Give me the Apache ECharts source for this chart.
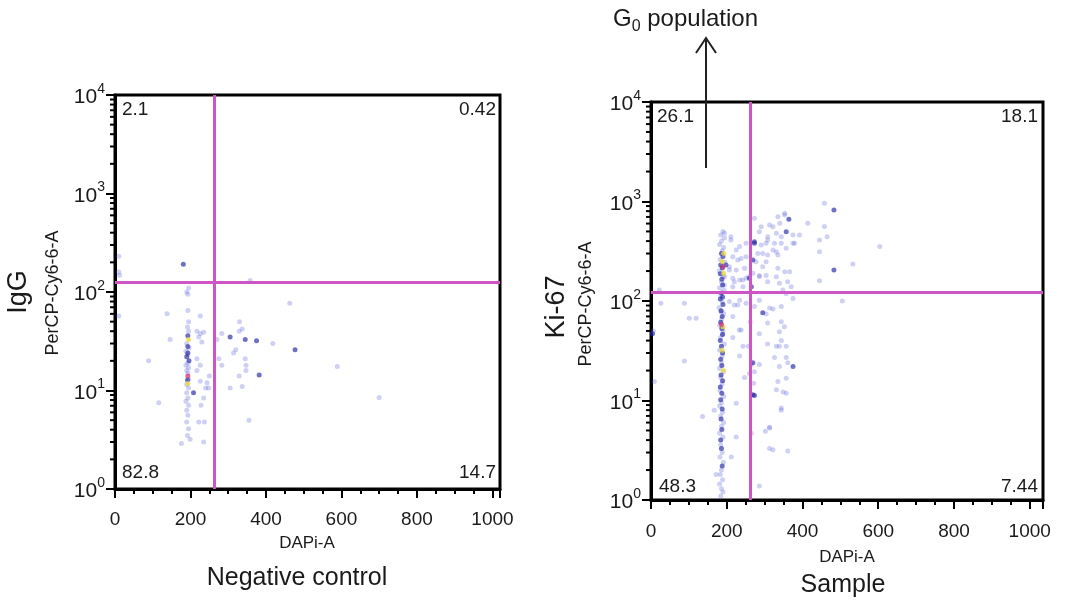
<!DOCTYPE html>
<html><head><meta charset="utf-8">
<script src="https://cdn.jsdelivr.net/npm/echarts@6/dist/echarts.min.js"></script>
<style>html,body{margin:0;padding:0;background:#fff}#c{width:1070px;height:601px}</style>
</head><body><div id="c"></div>
<script>
// ---------- data ----------
const xTickLabels = [0, 200, 400, 600, 800, 1000];
const yMinorTicks = [2,3,4,5,6,7,8,9,20,30,40,50,60,70,80,90,200,300,400,500,600,700,800,900,2000,3000,4000,5000,6000,7000,8000,9000];
const ctrlGate = [262, 127];
const smpGate = [262, 123];
const ctrlQuad = ['2.1', '0.42', '82.8', '14.7'];
const smpQuad = ['26.1', '18.1', '48.3', '7.44'];

const ctrlFaint = [[10,230],[10,160],[12,148],[10,57],
 [195,110],[190,100],[193,95],[358,131],[463,77],[138,60],[193,65],[226,57],
 [195,50],[192,44],[195,40],[190,30],[196,27],[188,25],[192,23],[193,19],[188,18],[195,17],[190,16],[193,15],[195,13],[190,11.5],[195,10.6],[190,9.5],[193,8.4],[188,7.8],[195,7.1],[190,6.3],[193,5.6],[190,4.8],[195,4.1],[192,3.5],[176,2.9],[199,3.2],
 [217,40],[222,35],[226,38],[235,39],[230,31],[217,21],[226,18],[217,16],[226,12.4],[240,10.6],[235,8.4],[228,7.1],[237,4.8],[222,4.8],[235,3.0],[244,12],[248,10.6],[250,14],
 [146,33],[89,20],[116,7.5],
 [270,33],[283,38],[418,30],[275,21],[283,18],[314,24],[320,26],[305,10.6],[329,14],[345,21],[347,16],[347,18],[337,11],[355,5],[589,17.5],[700,8.5],[330,50],[337,42],[329,40]];
const ctrlDark = [[181,191],[193,28],[193,24],[190,22],[196,20],[208,9.5],[192,12.8],[305,35],[345,33],[375,32],[477,26],[193,36],[382,14.4]];
const ctrlYellow = [[195,33],[193,11.8]];
const ctrlRed = [[193,14]];

const smpFaint = [
 [190,500],[184,460],[194,430],[186,400],[181,370],[192,345],[188,320],[183,262],[195,245],[180,200],[190,176],[186,155],[181,136],[193,128],[184,112],[188,98],[180,86],[192,75],[186,65],[182,57],[190,50],[184,43],[194,37],[181,32],[188,28],[186,24],[181,21],[191,19.5],[184,17],[188,14.7],[182,12.7],[192,11],[186,9.5],[181,8.8],[189,7.6],[184,7.0],[192,6.0],[186,5.5],[181,4.7],[190,4.3],[184,3.6],[188,3.0],[182,2.7],[191,2.4],[186,2.0],[183,1.8],[189,1.6],[181,1.45],[186,1.3],[190,1.2],[184,1.1],
 [22,129],[26,95],[88,95],[101,67],[119,67],[9,15.5],[88,25],[167,8.0],[136,6.9],[172,1.8],[6,50],
 [194,479],[211,410],[234,352],[251,380],[216,279],[238,268],[207,221],[225,205],[247,213],[216,169],[234,163],[251,169],[194,145],[216,139],[243,139],[258,175],[211,443],[225,326],[251,279],[229,258],[207,205],[194,175],[242,163],[220,156],
 [207,99],[229,91],[251,95],[185,78],[233,51],[189,47],[234,102],[220,91],[216,70],[238,51],[216,43],[243,35],[234,28],[247,17],[225,9.4],[225,4.3],[212,2.7],
 [286,102],[313,85],[304,74],[344,88],[357,118],[375,106],[308,60],[339,49],[352,55],[286,47],[308,37],[357,35],[339,35],[326,27],[357,27],[339,22],[260,18.7],[335,15.5],[357,16.7],[331,12.8],[357,11.8],[344,8.4],[313,5.4],[302,4.9],[313,3.3],[361,3.1],[286,1.38],[322,83],[344,62],[344,40],[331,35],[361,24],[286,23],[349,12.2],[344,8.0],[313,5.3],[322,3.2],[265,4.7],[273,19.5],[271,14.9],[265,23],[257,35],[262,62],[273,88],
 [273,678],[291,558],[313,580],[335,703],[353,731],[344,443],[326,380],[308,410],[291,366],[282,301],[308,290],[331,313],[357,339],[379,380],[277,248],[304,248],[335,213],[366,197],[286,175],[308,156],[339,151],[370,139],[269,190],[392,460],[414,604],[458,959],[458,560],[465,443],[445,410],[445,313],[533,235],[445,160],[505,100],[604,352],[353,760],[340,604],[322,558],[375,460],[331,479],[308,443],[286,497],[304,380],[322,326],[344,380],[375,380],[295,301],[335,290],[295,221],[286,180],[304,180],[331,175],[353,197],[361,156],[348,129]];
const smpDark = [
 [186,300],[190,280],[184,230],[188,215],[183,188],[187,165],[189,145],[186,120],[183,105],[190,92],[185,80],[188,70],[184,61],[187,53],[189,46],[183,40],[186,35],[189,30],[184,26],[187,22.5],[185,18],[189,15.8],[183,13.7],[187,11.8],[184,10.2],[188,8.2],[185,6.5],[187,5.1],[184,4.0],[186,3.3],[188,2.2],
 [4,47],[198,230],[189,110],
 [375,22],[269,24],[269,11.4],[295,76],[273,11.2],
 [364,662],[357,497],[273,394],[265,139],[483,822],[483,205],[273,380],[269,258],[260,169]];
const smpYellow = [[192,300],[188,250],[192,190],[190,55],[188,32],[191,20]];
const smpRed = [[190,221],[186,58]];

// ---------- styles ----------
const FONT = '"Liberation Sans", Arial, Helvetica, sans-serif';
const TXT = '#1a1a1a';
const GATE = '#cf55c4';
const FAINT = 'rgba(95,100,220,0.38)';
const DARK = 'rgba(35,40,165,0.82)';
const YEL = 'rgba(235,215,60,0.95)';
const RED = 'rgba(210,50,110,0.9)';

function xAxisDef(gi, max, margin) {
  return {
    type: 'value', gridIndex: gi, min: 0, max: max, interval: 200,
    axisLine: { show: true, onZero: false, lineStyle: { color: '#000', width: 3 } },
    axisTick: { show: true, length: 9, lineStyle: { color: '#000', width: 2 } },
    minorTick: { show: true, splitNumber: 4, length: 5, lineStyle: { color: '#000', width: 2 } },
    splitLine: { show: false }, minorSplitLine: { show: false },
    axisLabel: { margin: margin, fontSize: 19, color: TXT, fontFamily: FONT,
      formatter: v => (xTickLabels.indexOf(v) >= 0 ? String(v) : '') }
  };
}
function yAxisDef(gi) {
  return {
    type: 'log', logBase: 10, gridIndex: gi, min: 1, max: 10000,
    axisLine: { show: true, lineStyle: { color: '#000', width: 3 } },
    axisTick: { show: true, length: 9, lineStyle: { color: '#000', width: 2 } },
    splitLine: { show: false },
    axisLabel: {
      margin: 10, color: TXT, fontFamily: FONT,
      formatter: v => '{b|10}{s|' + Math.round(Math.log10(v)) + '}',
      rich: {
        b: { fontSize: 21, fontFamily: FONT, color: TXT, lineHeight: 26, verticalAlign: 'bottom' },
        s: { fontSize: 14, fontFamily: FONT, color: TXT, lineHeight: 15, verticalAlign: 'top' }
      }
    }
  };
}
function dots(data, gi, color, z) {
  return { type: 'scatter', xAxisIndex: gi, yAxisIndex: gi, data: data, symbolSize: 5,
    itemStyle: { color: color }, silent: true, z: z };
}
function gateLines(gi, gate) {
  return { type: 'scatter', xAxisIndex: gi, yAxisIndex: gi, data: [], silent: true, z: 5,
    markLine: { silent: true, symbol: 'none', label: { show: false },
      lineStyle: { color: GATE, width: 3, type: 'solid' },
      data: [{ xAxis: gate[0] }, { yAxis: gate[1] }] } };
}
function minorY(gi) {
  return { type: 'custom', xAxisIndex: gi, yAxisIndex: gi, silent: true, clip: false, z: 10,
    data: yMinorTicks.map(v => [0, v]),
    renderItem: (params, api) => {
      const p = api.coord([api.value(0), api.value(1)]);
      return { type: 'line', shape: { x1: p[0] - 5, y1: p[1], x2: p[0], y2: p[1] },
        style: { stroke: '#000', lineWidth: 2 } };
    } };
}
function txt(x, y, text, size, align, extra) {
  return Object.assign({ type: 'text', x: x, y: y, silent: true,
    style: { text: text, fontSize: size, fontFamily: FONT, fill: TXT, align: align || 'center', verticalAlign: 'middle' } }, extra || {});
}

const chart = echarts.init(document.getElementById('c'), null, { renderer: 'canvas' });
chart.setOption({
  animation: false,
  backgroundColor: '#fff',
  grid: [
    { left: 115, top: 95, width: 385, height: 394, show: true, borderColor: '#000', borderWidth: 3, backgroundColor: 'transparent' },
    { left: 651, top: 102, width: 392, height: 398, show: true, borderColor: '#000', borderWidth: 3, backgroundColor: 'transparent' }
  ],
  xAxis: [xAxisDef(0, 1020, 21), xAxisDef(1, 1035, 22)],
  yAxis: [yAxisDef(0), yAxisDef(1)],
  series: [
    dots(ctrlFaint, 0, FAINT, 2), dots(ctrlDark, 0, DARK, 3), dots(ctrlYellow, 0, YEL, 4), dots(ctrlRed, 0, RED, 4),
    gateLines(0, ctrlGate), minorY(0),
    dots(smpFaint, 1, FAINT, 2), dots(smpDark, 1, DARK, 3), dots(smpYellow, 1, YEL, 4), dots(smpRed, 1, RED, 4),
    gateLines(1, smpGate), minorY(1)
  ],
  graphic: [
    txt(122, 110, ctrlQuad[0], 19, 'left'), txt(496, 110, ctrlQuad[1], 19, 'right'),
    txt(122, 473, ctrlQuad[2], 19, 'left'), txt(496, 473, ctrlQuad[3], 19, 'right'),
    txt(657, 117, smpQuad[0], 19, 'left'), txt(1038, 117, smpQuad[1], 19, 'right'),
    txt(659, 487, smpQuad[2], 19, 'left'), txt(1038, 487, smpQuad[3], 19, 'right'),
    txt(19, 292, 'IgG', 27, 'center', { rotation: Math.PI / 2 }),
    txt(53, 293, 'PerCP-Cy6-6-A', 18, 'center', { rotation: Math.PI / 2 }),
    txt(557, 307, 'Ki-67', 27, 'center', { rotation: Math.PI / 2 }),
    txt(586, 304, 'PerCP-Cy6-6-A', 18, 'center', { rotation: Math.PI / 2 }),
    txt(307, 543, 'DAPi-A', 17), txt(297, 578, 'Negative control', 25),
    txt(847, 557, 'DAPi-A', 17), txt(843, 585, 'Sample', 25),
    { type: 'text', x: 613, y: 21, silent: true,
      style: { text: '{g|G}{s|0}{g| population}', fontFamily: FONT, fill: TXT, align: 'left', verticalAlign: 'middle',
        rich: { g: { fontSize: 24, fontFamily: FONT, fill: TXT, lineHeight: 28, verticalAlign: 'top' },
                s: { fontSize: 16, fontFamily: FONT, fill: TXT, lineHeight: 16, verticalAlign: 'bottom' } } } },
    { type: 'line', silent: true, shape: { x1: 706, y1: 168, x2: 706, y2: 38 }, style: { stroke: '#222', lineWidth: 2 } },
    { type: 'polyline', silent: true, shape: { points: [[696, 53], [706, 38], [716, 53]] }, style: { stroke: '#222', lineWidth: 2, fill: null } }
  ]
});
</script></body></html>
